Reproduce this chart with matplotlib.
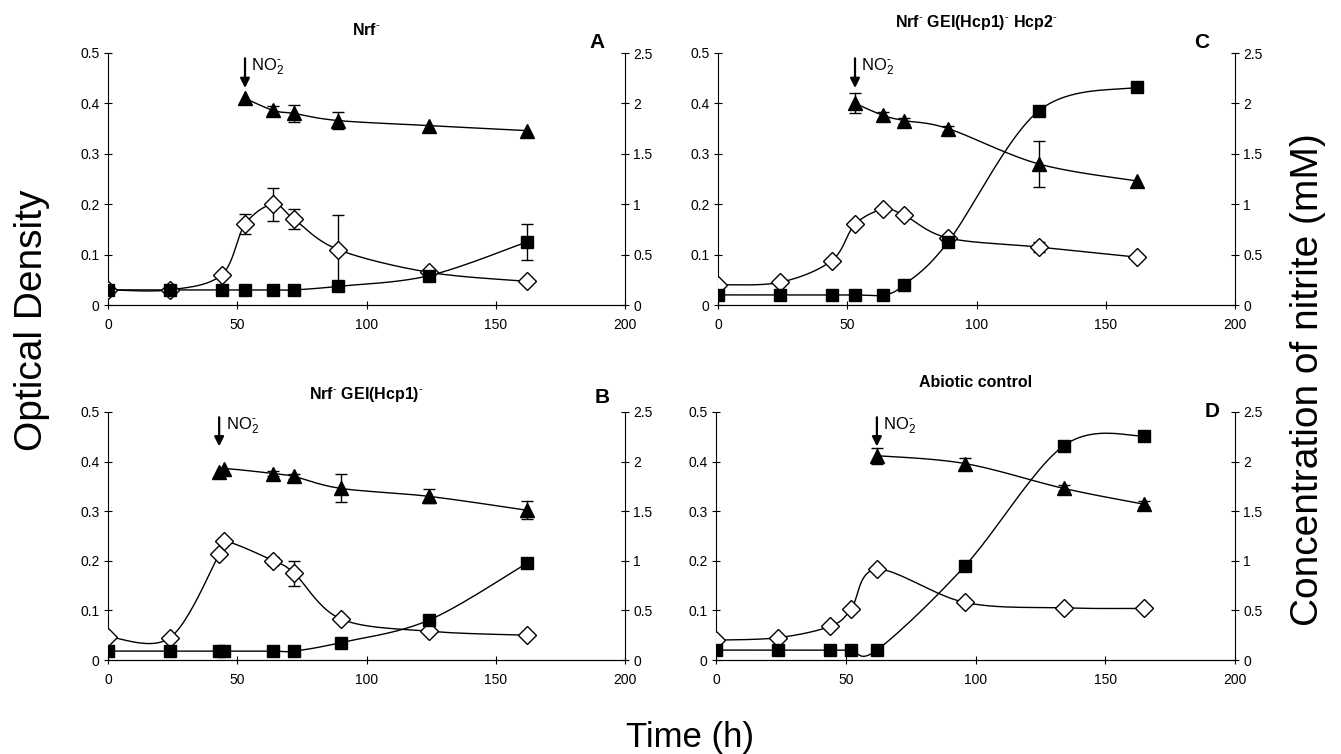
import numpy as np
import matplotlib
matplotlib.use('Agg')
import matplotlib.pyplot as plt

plt.rcParams['font.family'] = ['Liberation Sans', 'DejaVu Sans']
plt.rcParams['mathtext.fontset'] = 'custom'
plt.rcParams['mathtext.rm'] = 'Liberation Sans'
plt.rcParams['mathtext.it'] = 'Liberation Sans:italic'
plt.rcParams['mathtext.bf'] = 'Liberation Sans:bold'

# ---- panel A : Nrf- ----
a_t = [0, 24, 44, 53, 64, 72, 89, 124, 162]
a_od = [0.030, 0.030, 0.060, 0.160, 0.200, 0.170, 0.110, 0.065, 0.047]
a_od_err = [0, 0, 0, 0.020, 0.033, 0.020, 0.068, 0, 0]
a_sq = [0.030, 0.030, 0.030, 0.030, 0.030, 0.030, 0.037, 0.058, 0.125]
a_sq_err = [0, 0, 0, 0, 0, 0, 0, 0, 0.035]
a_tri_t = [53, 64, 72, 89, 124, 162]
a_tri = [2.05, 1.93, 1.90, 1.83, 1.78, 1.73]
a_tri_err = [0, 0.04, 0.08, 0.08, 0, 0]

# ---- panel B : Nrf- GEI(Hcp1)- ----
b_t = [0, 24, 43, 45, 64, 72, 90, 124, 162]
b_od = [0.047, 0.045, 0.213, 0.240, 0.200, 0.175, 0.083, 0.058, 0.050]
b_od_err = [0, 0, 0, 0, 0.008, 0.025, 0, 0, 0]
b_sq = [0.018, 0.018, 0.018, 0.018, 0.018, 0.018, 0.035, 0.080, 0.195]
b_sq_err = [0, 0, 0, 0, 0, 0, 0, 0, 0]
b_tri_t = [43, 45, 64, 72, 90, 124, 162]
b_tri = [1.90, 1.93, 1.88, 1.85, 1.73, 1.65, 1.51]
b_tri_err = [0, 0, 0.03, 0.03, 0.14, 0.07, 0.09]

# ---- panel C : Nrf- GEI(Hcp1)- Hcp2- ----
c_t = [0, 24, 44, 53, 64, 72, 89, 124, 162]
c_od = [0.040, 0.045, 0.088, 0.160, 0.190, 0.178, 0.133, 0.115, 0.095]
c_od_err = [0, 0, 0, 0, 0, 0, 0, 0.010, 0]
c_sq = [0.020, 0.020, 0.020, 0.020, 0.020, 0.040, 0.125, 0.385, 0.432]
c_sq_err = [0, 0, 0, 0, 0, 0, 0, 0, 0]
c_tri_t = [53, 64, 72, 89, 124, 162]
c_tri = [2.00, 1.88, 1.83, 1.75, 1.40, 1.23]
c_tri_err = [0.10, 0.03, 0.03, 0.03, 0.23, 0]

# ---- panel D : abiotic control ----
d_t = [0, 24, 44, 52, 62, 96, 134, 165]
d_od = [0.040, 0.045, 0.068, 0.102, 0.183, 0.116, 0.105, 0.104]
d_od_err = [0, 0, 0, 0, 0, 0, 0, 0]
d_sq = [0.020, 0.020, 0.020, 0.020, 0.020, 0.190, 0.432, 0.452]
d_sq_err = [0, 0, 0, 0, 0, 0, 0, 0]
d_tri_t = [62, 96, 134, 165]
d_tri = [2.06, 1.98, 1.73, 1.57]
d_tri_err = [0.08, 0.06, 0.03, 0.03]

SUP = r'$^{\mathbf{\text{-}}}$'
titles = ['Nrf' + SUP, 'Nrf' + SUP + ' GEI(Hcp1)' + SUP,
          'Nrf' + SUP + ' GEI(Hcp1)' + SUP + ' Hcp2' + SUP,
          'Abiotic control']
letters = ['A', 'B', 'C', 'D']


def smooth(x, y, n=24):
    # catmull-rom curve through the points, like the spreadsheet "smoothed line"
    pts = np.column_stack([x, y]).astype(float)
    P = np.vstack([pts[0], pts, pts[-1]])
    out = []
    t = np.linspace(0, 1, n, endpoint=False)[:, None]
    for i in range(1, len(P) - 2):
        p0, p1, p2, p3 = P[i - 1], P[i], P[i + 1], P[i + 2]
        seg = 0.5 * (2 * p1 + (-p0 + p2) * t
                     + (2 * p0 - 5 * p1 + 4 * p2 - p3) * t ** 2
                     + (-p0 + 3 * p1 - 3 * p2 + p3) * t ** 3)
        out.append(seg)
    out.append(pts[-1:])
    out = np.vstack(out)
    return out[:, 0], out[:, 1]


def draw_series(ax, x, y, err, marker, face, ms):
    sx, sy = smooth(x, y)
    ax.plot(sx, sy, color='black', lw=1.0, zorder=2)
    e = np.array(err)
    if e.any():
        xe = np.array(x)[e > 0]
        ye = np.array(y)[e > 0]
        ax.errorbar(xe, ye, yerr=e[e > 0], fmt='none', ecolor='black',
                    elinewidth=1.0, capsize=4, capthick=1.0, zorder=3)
    ax.plot(x, y, ls='none', marker=marker, ms=ms, mfc=face, mec='black',
            mew=1.0, zorder=4)


def draw_panel(ax, t, od, od_err, sq, sq_err, tri_t, tri, tri_err,
               title, letter, title_y, letter_xy):
    ax.set_xlim(0, 200)
    ax.set_ylim(0, 0.5)
    ax.set_xticks([0, 50, 100, 150, 200])
    ax.set_yticks([0, 0.1, 0.2, 0.3, 0.4, 0.5])
    ax.set_yticklabels(['0', '0.1', '0.2', '0.3', '0.4', '0.5'])
    ax.spines['top'].set_visible(False)
    ax.spines['right'].set_visible(False)
    ax.tick_params(axis='y', direction='inout', length=6, labelsize=10, pad=3)
    ax.tick_params(axis='x', direction='inout', length=6, labelsize=10, pad=6)

    ax2 = ax.twinx()
    ax2.set_ylim(0, 2.5)
    ax2.set_yticks([0, 0.5, 1, 1.5, 2, 2.5])
    ax2.set_yticklabels(['0', '0.5', '1', '1.5', '2', '2.5'])
    ax2.spines['top'].set_visible(False)
    ax2.spines['left'].set_visible(False)
    ax2.tick_params(axis='y', direction='inout', length=6, labelsize=10, pad=3)

    draw_series(ax, t, od, od_err, 'D', 'white', 9)
    draw_series(ax, t, sq, sq_err, 's', 'black', 8)
    draw_series(ax2, tri_t, tri, tri_err, '^', 'black', 10.5)

    # nitrite addition arrow
    x0 = tri_t[0]
    ax.annotate('', xy=(x0, 0.425), xytext=(x0, 0.495),
                arrowprops=dict(arrowstyle='-|>', color='black', lw=1.6,
                                mutation_scale=14))
    ax.text(x0 + 2.5, 0.473, r'NO$_2^{\text{-}}$', fontsize=12, va='center',
            ha='left')

    ax.text(0.5, title_y, title, transform=ax.transAxes, ha='center',
            va='center', fontsize=11.5, fontweight='bold')
    ax.text(letter_xy[0], letter_xy[1], letter, transform=ax.transAxes,
            ha='center', va='center', fontsize=15, fontweight='bold')
    ax.set_zorder(ax2.get_zorder() + 1)
    ax.patch.set_visible(False)
    return ax2


fig = plt.figure(figsize=(13.41, 7.54), dpi=100)
W, H = 1341.0, 754.0
ax_a = fig.add_axes([108 / W, 1 - 305 / H, 517 / W, 252 / H])
ax_c = fig.add_axes([718 / W, 1 - 305 / H, 517 / W, 252 / H])
ax_b = fig.add_axes([108 / W, 1 - 660 / H, 517 / W, 248 / H])
ax_d = fig.add_axes([716 / W, 1 - 660 / H, 519 / W, 248 / H])

draw_panel(ax_a, a_t, a_od, a_od_err, a_sq, a_sq_err, a_tri_t, a_tri, a_tri_err,
           titles[0], letters[0], 1.09, (0.945, 1.04))
draw_panel(ax_b, b_t, b_od, b_od_err, b_sq, b_sq_err, b_tri_t, b_tri, b_tri_err,
           titles[1], letters[1], 1.07, (0.955, 1.06))
draw_panel(ax_c, c_t, c_od, c_od_err, c_sq, c_sq_err, c_tri_t, c_tri, c_tri_err,
           titles[2], letters[2], 1.12, (0.935, 1.04))
draw_panel(ax_d, d_t, d_od, d_od_err, d_sq, d_sq_err, d_tri_t, d_tri, d_tri_err,
           titles[3], letters[3], 1.12, (0.955, 1.0))

fig.text(32 / W, 1 - 320 / H, 'Optical Density', rotation=90, ha='center',
         va='center', fontsize=28)
fig.text(1308 / W, 1 - 380 / H, 'Concentration of nitrite (mM)', rotation=90,
         ha='center', va='center', fontsize=28)
fig.text(690 / W, 1 - 738 / H, 'Time (h)', ha='center', va='center',
         fontsize=25)

fig.savefig('out.png', dpi=100)
